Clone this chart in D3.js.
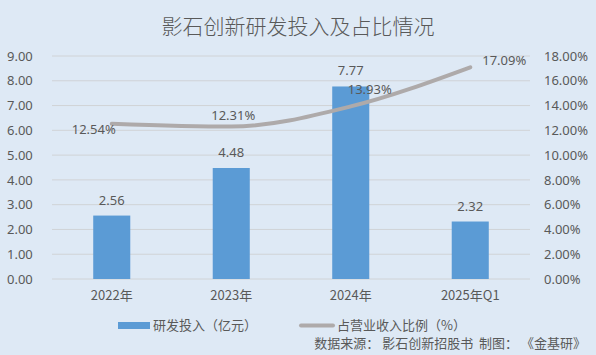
<!DOCTYPE html>
<html><head><meta charset="utf-8">
<script src="https://cdn.jsdelivr.net/npm/d3@7"></script>
<style>
body{margin:0;background:#dee9f5;}
text{font-family:"Noto Sans","Noto Sans CJK SC",sans-serif;fill:#595959;}
</style></head>
<body>
<svg id="c" width="596" height="355"></svg>
<script>
const categories = ["2022年","2023年","2024年","2025年Q1"];
const rdSpend = [2.56, 4.48, 7.77, 2.32];
const rdRatio = [12.54, 12.31, 13.93, 17.09];
const leftTicks = [0,1,2,3,4,5,6,7,8,9];
const rightTicks = [0,2,4,6,8,10,12,14,16,18];

const svg = d3.select("#c");
svg.append("rect").attr("width",596).attr("height",355).attr("fill","#dee9f5");
const m = {l:52, r:530, t:56, b:279};
const x = d3.scaleBand().domain(categories).range([m.l, m.r]).paddingInner(0.69).paddingOuter(0.345);
const yL = d3.scaleLinear().domain([0,9]).range([m.b, m.t]);
const yR = d3.scaleLinear().domain([0,18]).range([m.b, m.t]);
const cx = c => x(c) + x.bandwidth()/2;

svg.append("text").attr("x",298).attr("y",34).attr("text-anchor","middle")
  .style("font-size","21px").style("font-weight","300").attr("fill","#5f5f5f")
  .style("font-family","'Noto Sans CJK SC',sans-serif").text("影石创新研发投入及占比情况");

// gridlines
svg.append("g").selectAll("line").data(leftTicks).join("line")
  .attr("x1",m.l).attr("x2",m.r).attr("y1",d=>yL(d)).attr("y2",d=>yL(d))
  .attr("stroke","#d0d3d6").attr("stroke-width",1);

const axL = svg.append("g").attr("transform",`translate(${m.l},0)`)
  .call(d3.axisLeft(yL).tickValues(leftTicks).tickFormat(d3.format(".2f")).tickSize(0).tickPadding(17));
const axR = svg.append("g").attr("transform",`translate(${m.r},0)`)
  .call(d3.axisRight(yR).tickValues(rightTicks).tickFormat(d=>d3.format(".2f")(d)+"%").tickSize(0).tickPadding(14));
const axB = svg.append("g").attr("transform",`translate(0,${m.b})`)
  .call(d3.axisBottom(x).tickSize(0).tickPadding(12));
[axL,axR,axB].forEach(a=>{a.select(".domain").remove();a.selectAll("text").style("font-size","13px").attr("fill","#595959");});
axB.selectAll("text").style("font-family","'Noto Sans CJK SC',sans-serif");
axL.selectAll("text").attr("text-anchor","start").attr("x",-45);
axR.selectAll("text").attr("x",14);

// bars
svg.append("g").selectAll("rect").data(rdSpend).join("rect")
  .attr("x",(d,i)=>x(categories[i])).attr("width",x.bandwidth())
  .attr("y",d=>yL(d)).attr("height",d=>m.b-yL(d)).attr("fill","#5b9bd5");
svg.append("g").selectAll("text").data(rdSpend).join("text")
  .attr("x",(d,i)=>cx(categories[i])).attr("y",d=>yL(d)-11)
  .attr("text-anchor","middle").style("font-size","13px").attr("fill","#404040").text(d=>d3.format(".2f")(d));

// line
const line = d3.line().x((d,i)=>cx(categories[i])).y(d=>yR(d)).curve(d3.curveMonotoneX);
svg.append("path").datum(rdRatio).attr("d",line).attr("fill","none")
  .attr("stroke","#aeaaaa").attr("stroke-width",4).attr("stroke-linecap","round");
const lblOff = [[-18,10],[2,-6],[19,-12],[34,-2]];
svg.append("g").selectAll("text").data(rdRatio).join("text")
  .attr("x",(d,i)=>cx(categories[i])+lblOff[i][0]).attr("y",(d,i)=>yR(d)+lblOff[i][1])
  .attr("text-anchor","middle").style("font-size","13px").attr("fill","#404040").text(d=>d3.format(".2f")(d)+"%");

// legend
const lg = svg.append("g");
lg.append("rect").attr("x",118).attr("y",322).attr("width",32).attr("height",7).attr("fill","#5b9bd5");
lg.append("text").attr("x",153).attr("y",330).style("font-size","13px").style("font-family","'Noto Sans CJK SC',sans-serif").text("研发投入（亿元）");
lg.append("line").attr("x1",301).attr("x2",333).attr("y1",325.5).attr("y2",325.5).attr("stroke","#aeaaaa").attr("stroke-width",4).attr("stroke-linecap","round");
lg.append("text").attr("x",337).attr("y",330).style("font-size","13px").style("font-family","'Noto Sans CJK SC',sans-serif").text("占营业收入比例（%）");
svg.append("text").attr("x",586).attr("y",348).attr("text-anchor","end").style("font-size","13px").style("white-space","pre")
  .style("font-family","'Noto Sans CJK SC',sans-serif").text("数据来源： 影石创新招股书  制图： 《金基研》");
</script>
</body></html>
